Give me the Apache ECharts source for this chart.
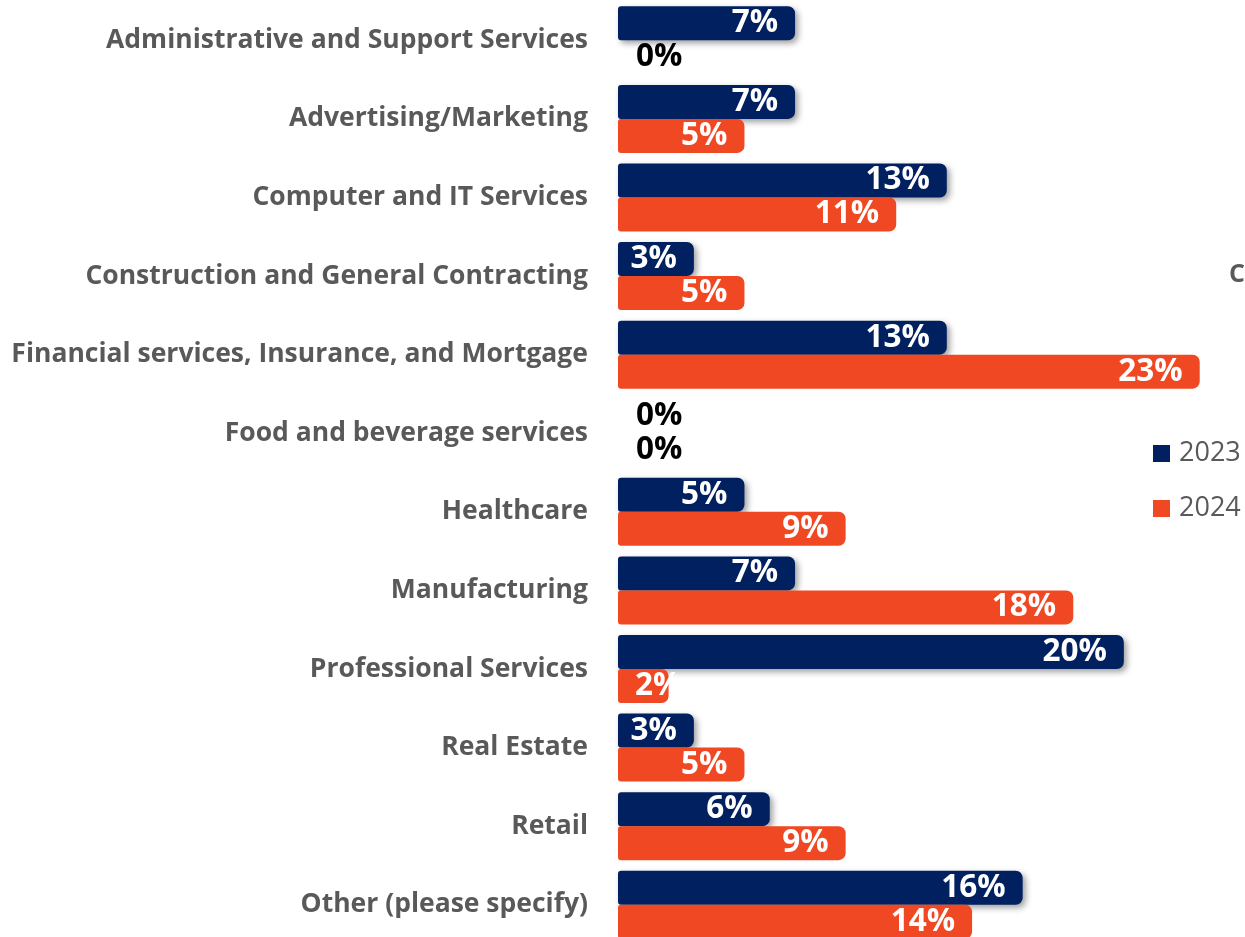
<!DOCTYPE html>
<html>
<head>
<meta charset="utf-8">
<script src="https://cdn.jsdelivr.net/npm/echarts@6/dist/echarts.min.js"></script>
<style>
  html, body { margin: 0; padding: 0; background: #ffffff; overflow: hidden; }
  #chart { width: 1245px; height: 944px; }
</style>
</head>
<body>
<div id="chart"></div>
<script>
// Industry breakdown of respondents, share of total (%)
const categories = [
  'Administrative and Support Services',
  'Advertising/Marketing',
  'Computer and IT Services',
  'Construction and General Contracting',
  'Financial services, Insurance, and Mortgage',
  'Food and beverage services',
  'Healthcare',
  'Manufacturing',
  'Professional Services',
  'Real Estate',
  'Retail',
  'Other (please specify)'
];
const seriesNames = ['2023', '2024'];
const values2023 = [7, 7, 13, 3, 13, 0, 5, 7, 20, 3, 6, 16];
const values2024 = [0, 5, 11, 5, 23, 0, 9, 18, 2, 5, 9, 14];

const NAVY = '#002060';
const ORANGE = '#EF4823';
const GREY = '#595959';
const FONT = '"Open Sans", "Noto Sans", sans-serif';

// Zero bars get a black label just right of the axis; very short bars start their label near the axis.
function withLabels(values) {
  return values.map(v => {
    if (v === 0) {
      return { value: v, label: { position: 'right', distance: 18, color: '#000000' } };
    }
    if (v < 3) {
      return { value: v, label: { position: 'insideLeft', distance: 17 } };
    }
    return { value: v };
  });
}

const valueLabel = {
  show: true,
  position: 'insideRight',
  distance: 17,
  color: '#ffffff',
  fontFamily: FONT,
  fontWeight: 'bold',
  fontSize: 31.5,
  formatter: p => p.value + '%'
};

const chart = echarts.init(document.getElementById('chart'), null, { renderer: 'canvas' });
chart.setOption({
  animation: false,
  backgroundColor: '#ffffff',
  grid: { left: 618, right: 20, top: 1, bottom: 0, containLabel: false },
  xAxis: {
    type: 'value',
    min: 0,
    max: 24,
    show: false
  },
  yAxis: {
    type: 'category',
    data: categories,
    inverse: true,
    axisLine: { show: false },
    axisTick: { show: false },
    splitLine: { show: false },
    axisLabel: {
      margin: 30,
      color: GREY,
      fontFamily: FONT,
      fontWeight: 'bold',
      fontSize: 26.5
    }
  },
  legend: {
    orient: 'vertical',
    left: 1153,
    top: 440,
    padding: 0,
    icon: 'rect',
    itemWidth: 17,
    itemHeight: 17,
    itemGap: 28,
    data: seriesNames,
    textStyle: { color: GREY, fontFamily: FONT, fontSize: 27, padding: [0, 0, 0, 4] }
  },
  graphic: [{
    type: 'text',
    left: 1229,
    top: 262,
    style: { text: 'C', fill: GREY, font: 'bold 25px ' + FONT }
  }],
  series: [
    {
      name: seriesNames[0],
      type: 'bar',
      data: withLabels(values2023),
      barWidth: 34,
      barGap: '0%',
      itemStyle: {
        color: NAVY,
        borderRadius: [3, 7, 7, 3],
        shadowColor: 'rgba(0, 0, 0, 0.38)',
        shadowBlur: 6,
        shadowOffsetX: 3,
        shadowOffsetY: 3
      },
      label: valueLabel,
      z: 2
    },
    {
      name: seriesNames[1],
      type: 'bar',
      data: withLabels(values2024),
      barWidth: 34,
      barGap: '0%',
      itemStyle: {
        color: ORANGE,
        borderRadius: [3, 7, 7, 3]
      },
      label: valueLabel,
      z: 3
    }
  ]
});
</script>
</body>
</html>
